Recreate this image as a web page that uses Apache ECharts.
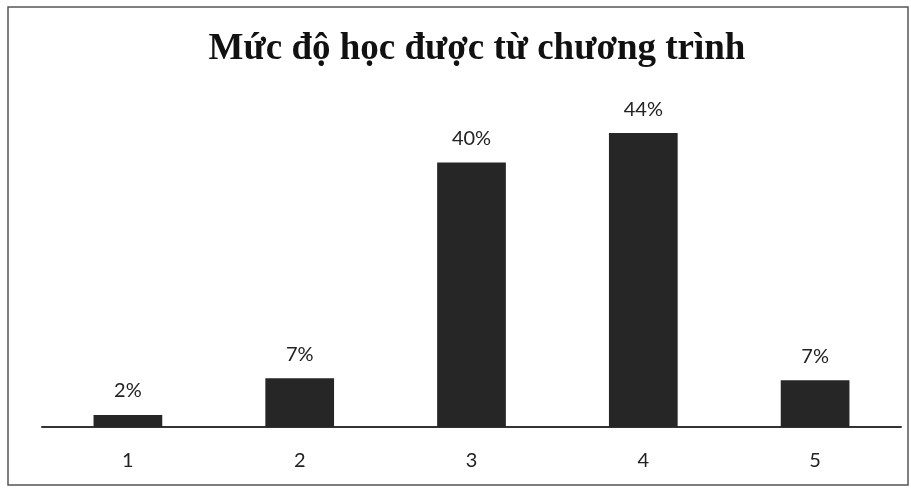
<!DOCTYPE html>
<html>
<head>
<meta charset="utf-8">
<script src="https://cdn.jsdelivr.net/npm/echarts@6/dist/echarts.min.js"></script>
<style>
  html, body { margin: 0; padding: 0; background: #fff; }
  #chart { width: 911px; height: 489px; }
</style>
</head>
<body>
<div id="chart"></div>
<script>
const titleText = 'Mức độ học được từ chương trình';
const categories = ['1', '2', '3', '4', '5'];
const shares = [1.8, 7.3, 39.6, 44.0, 7.0];

const chart = echarts.init(document.getElementById('chart'));

const opts = {
  backgroundColor: '#fff',
  animation: false,
  title: {
    text: titleText,
    left: 472,
    textAlign: 'center',
    top: 26,
    textStyle: {
      fontFamily: 'Liberation Serif',
      fontWeight: 'bold',
      fontSize: 37,
      color: '#111',
    },
  },
  graphic: [
    {
      type: 'rect',
      shape: { x: 8, y: 7, width: 900, height: 478 },
      style: { fill: 'none', stroke: '#555', lineWidth: 1.5 },
      silent: true,
    },
  ],
  grid: { left: 42, right: 10, top: 93, bottom: 62 },
  xAxis: {
    type: 'category',
    data: categories,
    axisLine: { lineStyle: { color: '#333', width: 2 } },
    axisTick: { show: false },
    axisLabel: {
      margin: 24,
      fontFamily: 'Lato',
      fontSize: 20,
      color: '#222',
    },
  },
  yAxis: {
    type: 'value',
    min: 0,
    max: 50,
    show: false,
    splitLine: { show: false },
  },
  series: [
    {
      type: 'bar',
      data: shares,
      barWidth: '40%',
      itemStyle: { color: '#262626' },
      label: {
        show: true,
        position: 'top',
        distance: 14,
        fontFamily: 'Lato',
        fontSize: 20,
        color: '#222',
        formatter: (p) => `${Math.round(p.value)}%`,
      },
    },
  ],
};

chart.setOption(opts);
</script>
</body>
</html>
